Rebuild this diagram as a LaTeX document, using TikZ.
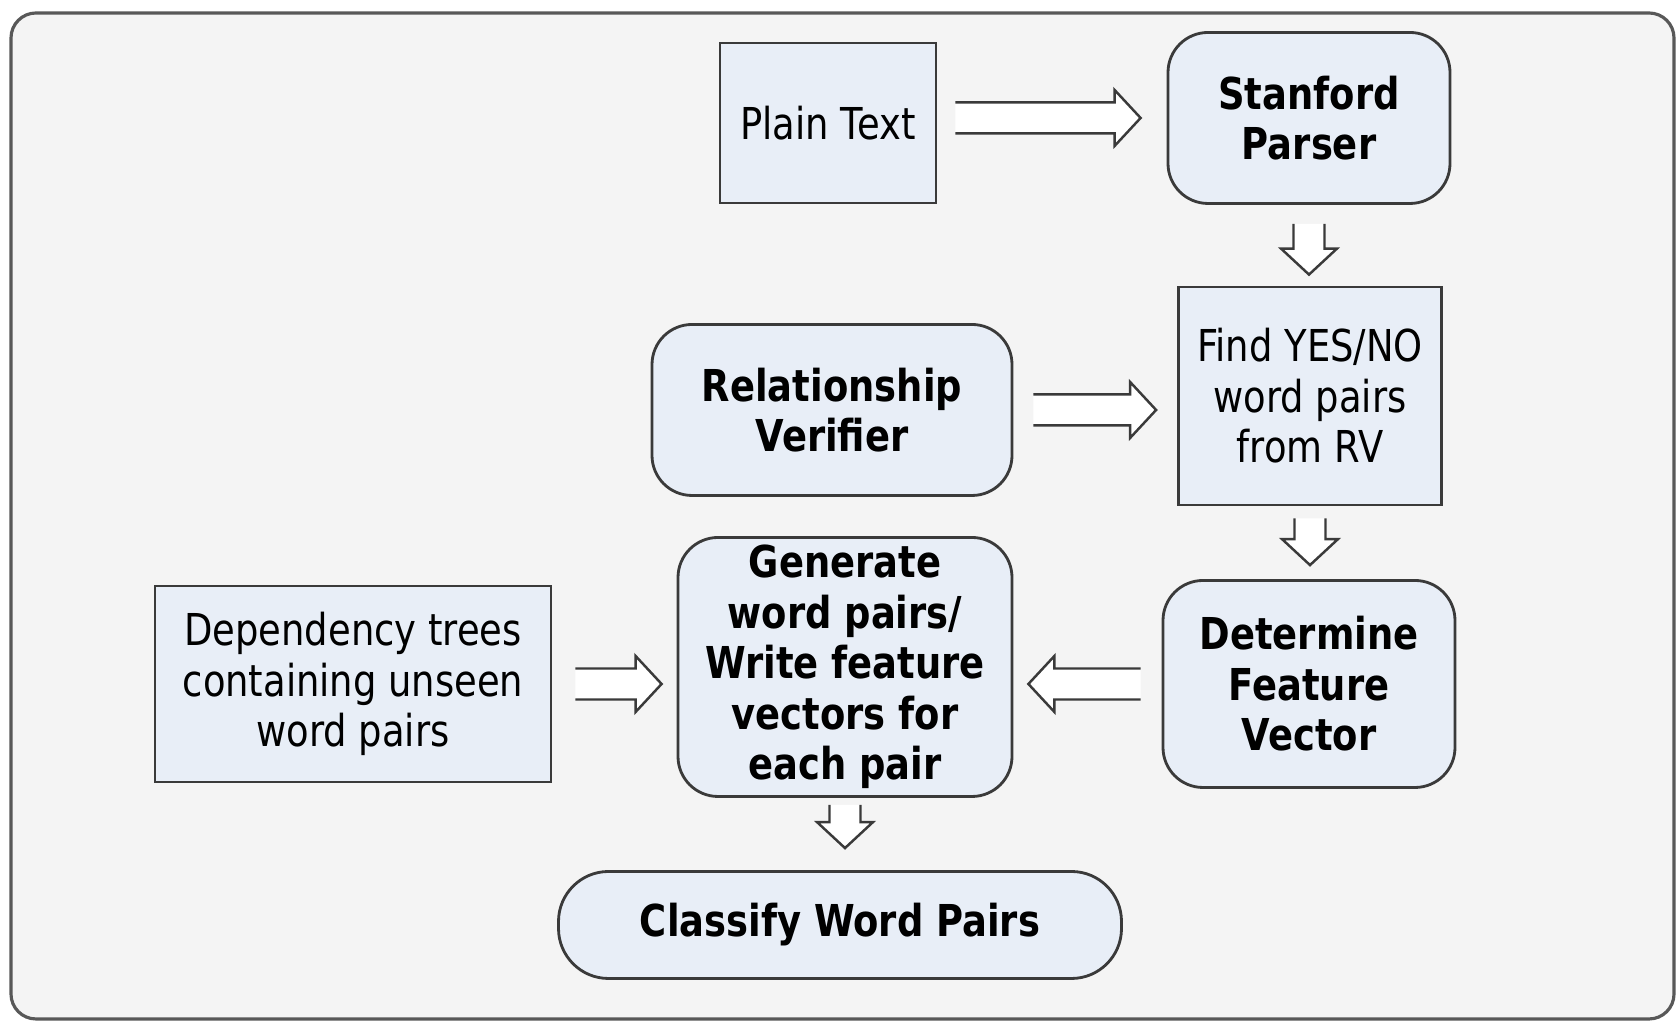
\documentclass[tikz,border=0pt]{standalone}
\usepackage{fontspec}
\setmainfont{DejaVu Sans}[FakeStretch=0.84]
\usepackage{xcolor}
\usepackage{tikz}
\usetikzlibrary{calc,positioning}
\definecolor{boxfill}{HTML}{E8EEF7}
\definecolor{panel}{HTML}{F4F4F4}
\definecolor{edge}{HTML}{3A3A3A}
\tikzset{rec/.style={rectangle,draw=edge,fill=boxfill,line width=0.8pt,inner sep=0pt,align=center,font=\fontsize{12.5}{14.4}\selectfont}}
\tikzset{rnd/.style={rec,rounded corners=0.4cm,font=\fontsize{12.5}{14.4}\selectfont\bfseries}}
\tikzset{barrow/.style={draw=edge,fill=white,line width=0.7pt,line join=miter}}
% hollow block arrow, open at the tail: #1 tail, #2 tip
\newcommand{\blockarrow}[2]{%
  \coordinate (hb) at ($(#2)!0.26cm!(#1)$);
  \draw[barrow] ($(#1)!0.155cm!90:(#2)$) -- ($(hb)!0.155cm!90:(#2)$) -- ($(hb)!0.28cm!90:(#2)$)
    -- (#2) -- ($(hb)!0.28cm!-90:(#2)$) -- ($(hb)!0.155cm!-90:(#2)$) -- ($(#1)!0.155cm!-90:(#2)$);
}

\begin{document}
\begin{tikzpicture}
        \useasboundingbox (0,0) rectangle (16.77,10.23);
        \draw[draw=edge!85,fill=panel,line width=0.9pt,rounded corners=0.25cm] (0.11,0.04) rectangle (16.74,10.10);

        \node[rec,minimum width=2.16cm,minimum height=1.60cm] (plain) at (8.28,9.00) {Plain Text};
        \node[rnd,minimum width=2.82cm,minimum height=1.71cm] (stanford) at (13.09,9.05) {Stanford\\Parser};
        \node[rec,minimum width=2.63cm,minimum height=2.18cm] (find) at (13.10,6.27) {Find YES/NO\\word pairs\\from RV};
        \node[rnd,minimum width=3.60cm,minimum height=1.71cm] (verifier) at (8.32,6.13) {Relationship\\Verifier};
        \node[rnd,minimum width=2.92cm,minimum height=2.07cm] (determine) at (13.09,3.39) {Determine\\Feature\\Vector};
        \node[rnd,minimum width=3.34cm,minimum height=2.59cm] (generate) at (8.45,3.56) {Generate\\word pairs/\\Write feature\\vectors for\\each pair};
        \node[rec,minimum width=3.96cm,minimum height=1.96cm] (trees) at (3.53,3.39) {Dependency trees\\containing unseen\\word pairs};
        \node[rnd,minimum width=5.63cm,minimum height=1.07cm,rounded corners=0.5cm] (classify) at (8.40,0.98) {Classify Word Pairs};

        \coordinate (t1) at ([xshift=-0.26cm]stanford.west);
        \coordinate (s1) at ($(plain.east |- t1)+(0.18,0)$);
        \coordinate (s2) at ([yshift=-0.19cm]stanford.south);
        \coordinate (t2) at ($(s2 |- find.north)+(0,0.11)$);
        \coordinate (s3) at ([xshift=0.20cm]verifier.east);
        \coordinate (t3) at ($(find.west |- s3)+(-0.21,0)$);
        \coordinate (s4) at ([yshift=-0.12cm]find.south);
        \coordinate (t4) at ($(s4 |- determine.north)+(0,0.14)$);
        \coordinate (s5) at ([xshift=-0.21cm]determine.west);
        \coordinate (t5) at ($(generate.east |- s5)+(0.15,0)$);
        \coordinate (s6) at ([xshift=0.23cm]trees.east);
        \coordinate (t6) at ($(generate.west |- s6)+(-0.15,0)$);
        \coordinate (s7) at ([yshift=-0.07cm]generate.south);
        \coordinate (t7) at ($(s7 |- classify.north)+(0,0.22)$);

        \blockarrow{s1}{t1}
        \blockarrow{s2}{t2}
        \blockarrow{s3}{t3}
        \blockarrow{s4}{t4}
        \blockarrow{s5}{t5}
        \blockarrow{s6}{t6}
        \blockarrow{s7}{t7}
    \end{tikzpicture}
\end{document}
